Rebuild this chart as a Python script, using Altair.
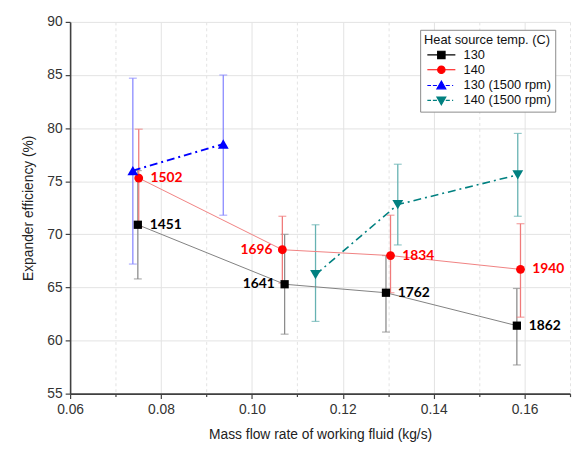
import altair as alt
import pandas as pd

# ---- data ----
series_names = ["130", "140", "130 (1500 rpm)", "140 (1500 rpm)"]

x130 = [0.0749, 0.1072, 0.1295, 0.1583]
y130 = [70.9, 65.3, 64.5, 61.4]
lo130 = [65.8, 60.6, 60.8, 57.7]
hi130 = [76.0, 70.0, 68.0, 64.9]
lab130 = ["1451", "1641", "1762", "1862"]

x140 = [0.0751, 0.1067, 0.1305, 0.1591]
y140 = [75.3, 68.55, 68.0, 66.7]
lo140 = [70.7, 65.4, 64.5, 62.2]
hi140 = [79.9, 71.7, 71.8, 71.0]
lab140 = ["1502", "1696", "1834", "1940"]

x130r = [0.0738, 0.0937]
y130r = [76.0, 78.5]
lo130r = [67.2, 71.8]
hi130r = [84.7, 85.0]

x140r = [0.1140, 0.1321, 0.1585]
y140r = [66.2, 72.8, 75.6]
lo140r = [61.8, 69.0, 71.7]
hi140r = [70.9, 76.6, 79.5]

left_labels = ["1641", "1696"]

x_ticks = [0.06, 0.07, 0.08, 0.09, 0.10, 0.11, 0.12, 0.13, 0.14, 0.15, 0.16, 0.17]
y_ticks = [55, 57.5, 60, 62.5, 65, 67.5, 70, 72.5, 75, 77.5, 80, 82.5, 85, 87.5, 90]

def frame(name, xs, ys, los, his, labs=None):
    return pd.DataFrame({
        "series": name, "x": xs, "y": ys, "lo": los, "hi": his,
        "label": labs if labs is not None else [""] * len(xs),
    })

d130 = frame("130", x130, y130, lo130, hi130, lab130)
d140 = frame("140", x140, y140, lo140, hi140, lab140)
d130r = frame("130 (1500 rpm)", x130r, y130r, lo130r, hi130r)
d140r = frame("140 (1500 rpm)", x140r, y140r, lo140r, hi140r)
allData = pd.concat([d130, d140, d130r, d140r], ignore_index=True)

# ---- styles ----
marker_colors = ["#000000", "#ff0000", "#0000ff", "#008080"]
line_colors = ["#808080", "#f08080", "#0000ff", "#008080"]
err_colors = ["#8c8c8c", "#f07a7a", "#8a8aff", "#66b2b2"]
line_widths = [1, 1, 2, 1.6]
line_dash = [[], [], [8, 4, 2, 4], [8, 4, 2, 4]]
shapes = ["square", "circle", "triangle-up", "triangle-down"]
sizes = [70, 80, 120, 120]

legend_paths = [
    "M-3.8,0H-1M1,0H3.8M-1,-1H1V1H-1Z",
    "M-3.8,0H-1M1,0H3.8M1,0A1,1,0,1,1,-1,0A1,1,0,1,1,1,0Z",
    "M-3.8,0H-2.8M-2.3,0H-1.2M1.2,0H2.3M2.9,0H3.2M0,-1.2L1.2,0.9H-1.2Z",
    "M-3.8,0H-2.8M-2.3,0H-1.2M1.2,0H2.3M2.9,0H3.2M0,1.2L1.2,-0.9H-1.2Z",
]

FONT = "Liberation Sans"

xscale = alt.Scale(domain=[0.06, 0.17], nice=False, zero=False)
yscale = alt.Scale(domain=[55, 90], nice=False, zero=False)

xaxis = alt.Axis(
    values=x_ticks, format=".2f",
    labelExpr="round(datum.value*100) % 2 == 1 ? '' : datum.label",
    title="Mass flow rate of working fluid (kg/s)",
    grid=True, gridColor="#e3e3e3", gridWidth=1,
    gridDash={"condition": {"test": "round(datum.value*100) % 2 == 1", "value": [3, 3]}, "value": []},
    tickSize={"condition": {"test": "round(datum.value*100) % 2 == 1", "value": 3}, "value": 5},
    tickColor="#404040", tickWidth=1.2, domainColor="#404040", domainWidth=1.6,
    labelFont=FONT, labelFontSize=14, labelColor="#333333", labelPadding=4,
    titleFont=FONT, titleFontSize=14, titleFontWeight="normal", titleColor="#222222",
    titlePadding=12, labelFlush=False,
)
yaxis = alt.Axis(
    values=y_ticks, format="d",
    labelExpr="datum.value % 5 == 0 ? datum.label : ''",
    title="Expander efficiency (%)",
    grid=True, gridColor="#e3e3e3", gridWidth=1,
    gridDash={"condition": {"test": "datum.value % 5 != 0", "value": [3, 3]}, "value": []},
    tickSize={"condition": {"test": "datum.value % 5 != 0", "value": 3}, "value": 5},
    tickColor="#404040", tickWidth=1.2, domainColor="#404040", domainWidth=1.6,
    labelFont=FONT, labelFontSize=14, labelColor="#333333", labelPadding=3,
    titleFont=FONT, titleFontSize=14, titleFontWeight="normal", titleColor="#222222",
    titlePadding=12, labelFlush=False,
)

base = alt.Chart(allData)

layers = []
# axes holder (grid + axes)
layers.append(
    base.mark_point(opacity=0).encode(
        x=alt.X("x:Q", scale=xscale, axis=xaxis),
        y=alt.Y("y:Q", scale=yscale, axis=yaxis),
    )
)

for i, name in enumerate(series_names):
    sub = base.transform_filter(alt.datum.series == name)
    # error bars
    layers.append(
        sub.mark_rule(color=err_colors[i], strokeWidth=1.3).encode(
            x="x:Q", y="lo:Q", y2="hi:Q"
        )
    )
    layers.append(
        sub.mark_tick(color=err_colors[i], orient="horizontal", size=8, thickness=1.2).encode(
            x="x:Q", y="lo:Q"
        )
    )
    layers.append(
        sub.mark_tick(color=err_colors[i], orient="horizontal", size=8, thickness=1.2).encode(
            x="x:Q", y="hi:Q"
        )
    )

for i, name in enumerate(series_names):
    sub = base.transform_filter(alt.datum.series == name)
    lk = dict(color=line_colors[i], strokeWidth=line_widths[i])
    if line_dash[i]:
        lk["strokeDash"] = line_dash[i]
    layers.append(sub.mark_line(**lk).encode(x="x:Q", y="y:Q", order="x:Q"))

for i, name in enumerate(series_names):
    sub = base.transform_filter(alt.datum.series == name)
    layers.append(
        sub.mark_point(shape=shapes[i], filled=True, opacity=1, size=sizes[i],
                       color=marker_colors[i]).encode(x="x:Q", y="y:Q")
    )

# point labels
for i, name in enumerate(series_names[:2]):
    sub = base.transform_filter(alt.datum.series == name)
    layers.append(
        sub.transform_filter(~alt.FieldOneOfPredicate(field="label", oneOf=left_labels))
        .mark_text(align="left", baseline="middle", dx=12, font="Lato",
                   fontWeight="bold", fontSize=14, color=marker_colors[i])
        .encode(x="x:Q", y="y:Q", text="label:N")
    )
    layers.append(
        sub.transform_filter(alt.FieldOneOfPredicate(field="label", oneOf=left_labels))
        .mark_text(align="right", baseline="middle", dx=-10, font="Lato",
                   fontWeight="bold", fontSize=14, color=marker_colors[i])
        .encode(x="x:Q", y="y:Q", text="label:N")
    )

# legend holder (no marks drawn, only the legend)
leg = alt.Legend(
    title="Heat source temp. (C)", orient="none", legendX=355, legendY=8,
    strokeColor="#8a8a8a", fillColor="white", padding=4,
    titleFont=FONT, titleFontSize=13, titleFontWeight="normal", titleColor="#111111",
    labelFont=FONT, labelFontSize=13, labelColor="#111111",
    symbolSize=56, symbolStrokeWidth=1.2, symbolOffset=11, labelOffset=16,
    symbolOpacity=1, rowPadding=1, titlePadding=2,
)
layers.append(
    base.transform_filter("false").mark_point(filled=True, opacity=1).encode(
        x="x:Q", y="y:Q",
        fill=alt.Fill("series:N", scale=alt.Scale(domain=series_names, range=marker_colors), legend=leg),
        stroke=alt.Stroke("series:N", scale=alt.Scale(domain=series_names, range=marker_colors), legend=leg),
        shape=alt.Shape("series:N", scale=alt.Scale(domain=series_names, range=legend_paths), legend=leg),
    )
)

chart = alt.layer(*layers).properties(
    width=507, height=377,
    autosize=alt.AutoSizeParams(type="none"),
    padding={"left": 63, "top": 11, "right": 2, "bottom": 50},
    background="white",
).configure_view(stroke=None)

chart.save("out.html", embed_options={"renderer": "svg", "actions": False})
